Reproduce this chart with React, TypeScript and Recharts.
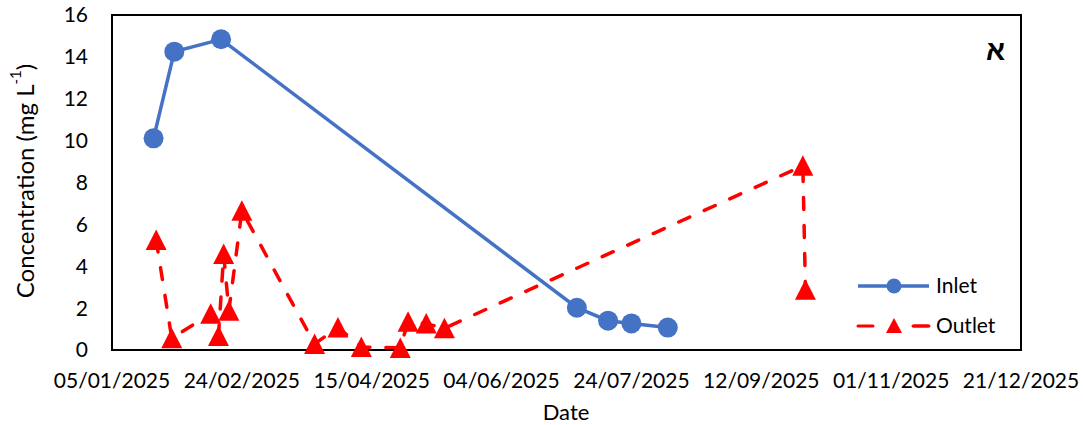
import React from 'react';
import { LineChart, Line, XAxis, YAxis, ReferenceArea, Legend } from 'recharts';

const inletDates = ['2025-01-21', '2025-01-29', '2025-02-16', '2025-07-03', '2025-07-15', '2025-07-24', '2025-08-07'];
const inletValues = [10.11, 14.25, 14.84, 2.02, 1.4, 1.27, 1.07];

const outletDates = [
  '2025-01-22', '2025-01-28', '2025-02-12', '2025-02-15', '2025-02-17', '2025-02-19', '2025-02-24',
  '2025-03-24', '2025-04-02', '2025-04-11', '2025-04-26', '2025-04-29', '2025-05-06', '2025-05-13',
  '2025-09-28', '2025-09-29',
];
const outletValues = [5.25, 0.56, 1.73, 0.67, 4.58, 1.88, 6.65, 0.29, 1.08, 0.14, 0.1, 1.35, 1.26, 1.04, 8.8, 2.88];

const xTickDates = ['2025-01-05', '2025-02-24', '2025-04-15', '2025-06-04', '2025-07-24', '2025-09-12', '2025-11-01', '2025-12-21'];
const yTicks = [0, 2, 4, 6, 8, 10, 12, 14, 16];

const seriesNames = ['Inlet', 'Outlet'];
const BLUE = '#4472C4';
const RED = '#FF0000';
const FONT = 'Lato, "Open Sans", sans-serif';

const START = Date.UTC(2025, 0, 5);
const DAY = 86400000;
const toDay = (s: string) => (Date.parse(s + 'T00:00:00Z') - START) / DAY;
const fmt = (d: number) => {
  const dt = new Date(START + d * DAY);
  const dd = String(dt.getUTCDate()).padStart(2, '0');
  const mm = String(dt.getUTCMonth() + 1).padStart(2, '0');
  return `${dd}/${mm}/${dt.getUTCFullYear()}`;
};

const inletData = inletDates.map((d, i) => ({ t: toDay(d), v: inletValues[i] }));
const outletData = outletDates.map((d, i) => ({ t: toDay(d), v: outletValues[i] }));
const xTicks = xTickDates.map(toDay);
const xMin = xTicks[0];
const xMax = xTicks[xTicks.length - 1];

const Circle = (props: any) => {
  const { cx, cy } = props;
  if (cx == null || cy == null) return null;
  return <circle cx={cx} cy={cy} r={10} fill={BLUE} />;
};

const Tri = (props: any) => {
  const { cx, cy } = props;
  if (cx == null || cy == null) return null;
  return <polygon points={`${cx},${cy - 10.5} ${cx - 10.5},${cy + 10} ${cx + 10.5},${cy + 10}`} fill={RED} />;
};

const YLabel = () => (
  <text
    x={24}
    y={181}
    transform="rotate(-90, 24, 181)"
    textAnchor="middle"
    dominantBaseline="central"
    fontFamily={FONT}
    fontSize={24}
    fill="#000"
  >
    Concentration (mg L
    <tspan fontSize={15} dy={-9}>-1</tspan>
    <tspan dy={9}>)</tspan>
  </text>
);

const XLabel = () => (
  <text x={566} y={420} textAnchor="middle" fontFamily={FONT} fontSize={22} fill="#000">
    Date
  </text>
);

const LegendContent = () => (
  <svg width={180} height={80} style={{ display: 'block', overflow: 'visible' }}>
    <line x1={8} x2={79} y1={20} y2={20} stroke={BLUE} strokeWidth={3.5} />
    <circle cx={44} cy={20} r={7.5} fill={BLUE} />
    <text x={86} y={27} fontFamily={FONT} fontSize={21} fill="#000">{seriesNames[0]}</text>
    <line x1={8} x2={79} y1={60} y2={60} stroke={RED} strokeWidth={3} strokeDasharray="15 40" strokeLinecap="round" />
    <line x1={64} x2={79} y1={60} y2={60} stroke={RED} strokeWidth={3} strokeLinecap="round" />
    <polygon points="44,52 36,67 52,67" fill={RED} />
    <text x={86} y={67} fontFamily={FONT} fontSize={21} fill="#000">{seriesNames[1]}</text>
  </svg>
);

export default function App() {
  return (
    <div style={{ position: 'absolute', left: 0, top: 0, width: 1083, height: 425, background: '#fff' }}>
      <LineChart width={1083} height={425} margin={{ top: 15, right: 62, bottom: 15, left: 52 }}>
        <XAxis
          dataKey="t"
          type="number"
          domain={[xMin, xMax]}
          ticks={xTicks}
          tickFormatter={fmt}
          allowDataOverflow
          height={60}
          tickLine={false}
          tickSize={0}
          tickMargin={23}
          axisLine={{ stroke: '#000', strokeWidth: 2 }}
          tick={{ fill: '#000', fontSize: 21, fontFamily: FONT }}
          interval={0}
          label={<XLabel />}
        />
        <YAxis
          type="number"
          domain={[0, 16]}
          ticks={yTicks}
          width={60}
          tickLine={false}
          tickSize={0}
          tickMargin={24}
          axisLine={{ stroke: '#000', strokeWidth: 2 }}
          tick={{ fill: '#000', fontSize: 21, fontFamily: FONT }}
          interval={0}
          label={<YLabel />}
        />
        <ReferenceArea x1={xMin} x2={xMax} y1={0} y2={16} fill="none" fillOpacity={0} stroke="#000" strokeWidth={2} ifOverflow="visible" />
        <Line
          data={inletData}
          dataKey="v"
          name={seriesNames[0]}
          type="linear"
          stroke={BLUE}
          strokeWidth={3.5}
          dot={<Circle />}
          activeDot={false}
          isAnimationActive={false}
        />
        <Line
          data={outletData}
          dataKey="v"
          name={seriesNames[1]}
          type="linear"
          stroke={RED}
          strokeWidth={3.5}
          strokeDasharray="12 16"
          strokeLinecap="round"
          dot={<Tri />}
          activeDot={false}
          isAnimationActive={false}
        />
        <Legend
          layout="vertical"
          align="center"
          verticalAlign="middle"
          content={<LegendContent />}
          wrapperStyle={{ position: 'absolute', left: 850, top: 266, width: 180, height: 80 }}
        />
      </LineChart>
      <span
        style={{
          position: 'absolute',
          left: 986,
          top: 37,
          fontFamily: '"Liberation Sans", "DejaVu Sans", sans-serif',
          fontWeight: 'bold',
          fontSize: 28,
          lineHeight: '28px',
          color: '#000',
        }}
      >
        א
      </span>
    </div>
  );
}
